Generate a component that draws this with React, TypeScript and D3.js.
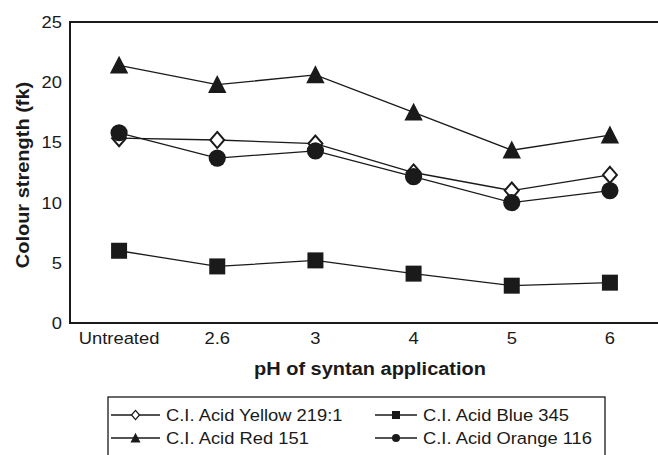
import * as d3 from "d3"

const categories = ["Untreated", "2.6", "3", "4", "5", "6"]
const yellow219 = [15.35, 15.2, 14.9, 12.5, 11.0, 12.3]
const blue345 = [6.0, 4.7, 5.2, 4.1, 3.1, 3.35]
const red151 = [21.4, 19.8, 20.6, 17.5, 14.35, 15.6]
const orange116 = [15.8, 13.7, 14.3, 12.15, 10.0, 11.0]
const yTicks = [0, 5, 10, 15, 20, 25]

const series = [
  { name: "C.I. Acid Yellow 219:1", values: yellow219, marker: "diamond" },
  { name: "C.I. Acid Blue 345", values: blue345, marker: "square" },
  { name: "C.I. Acid Red 151", values: red151, marker: "triangle" },
  { name: "C.I. Acid Orange 116", values: orange116, marker: "circle" },
]

const W = 658
const H = 455
const left = 70, right = 659, top = 22, bottom = 323
const font = "'Liberation Sans', Arial, sans-serif"
const ink = "#1a1a1a"

// the source text is a little wider than Arial, so stretch it horizontally
function T({ x, y, size, anchor = "start", bold = false, rot = 0, children }: any) {
  return (
    <text transform={`translate(${x},${y}) rotate(${rot}) scale(1.08,1)`} fontSize={size}
      textAnchor={anchor} fontWeight={bold ? "bold" : "normal"} fill={ink}>{children}</text>
  )
}

// k = half size of the marker
function Marker({ type, x, y, k, big }: { type: string; x: number; y: number; k: number; big: boolean }) {
  if (type === "diamond") {
    const h = k * 1.15
    return <path d={`M${x},${y - h}L${x + k},${y}L${x},${y + h}L${x - k},${y}Z`}
      fill="#fff" stroke={ink} strokeWidth={big ? 2 : 1.3} />
  }
  if (type === "square") {
    return <rect x={x - k} y={y - k} width={k * 2} height={k * 2} fill={ink} />
  }
  if (type === "triangle") {
    return <path d={`M${x},${y - k * 1.05}L${x + k},${y + k * 0.9}L${x - k},${y + k * 0.9}Z`} fill={ink} />
  }
  return <circle cx={x} cy={y} r={k} fill={ink} />
}

const bigSize: Record<string, number> = { diamond: 7, square: 8, triangle: 9.2, circle: 8.6 }
const smallSize: Record<string, number> = { diamond: 4, square: 4, triangle: 5, circle: 4 }

export default function App() {
  const x = d3.scaleBand().domain(categories).range([left, right])
  const y = d3.scaleLinear().domain([0, 25]).range([bottom, top])
  const cx = (c: string) => (x(c) as number) + x.bandwidth() / 2
  const line = d3.line<number>().x((_, i) => cx(categories[i])).y(d => y(d))

  const legendCols = [111, 375]
  const legendRows = [415, 438]

  return (
    <svg width={W} height={H} style={{ position: "absolute", left: 0, top: 0, background: "#fff" }}
      fontFamily={font}>
      <rect width={W} height={H} fill="#fff" />
      {/* frame */}
      <line x1={left} x2={right} y1={top} y2={top} stroke={ink} strokeWidth={2} />
      <line x1={left} x2={left} y1={top - 1} y2={bottom + 1} stroke={ink} strokeWidth={2} />
      <line x1={left} x2={right} y1={bottom} y2={bottom} stroke={ink} strokeWidth={2} />

      {yTicks.map(t => (
        <T key={t} x={62} y={y(t) + 6} size={17} anchor="end">{t}</T>
      ))}
      {categories.map(c => (
        <T key={c} x={cx(c)} y={344} size={17} anchor="middle">{c}</T>
      ))}

      <T x={370} y={375} size={18.5} anchor="middle" bold>pH of syntan application</T>
      <T x={29} y={175} size={18.5} anchor="middle" bold rot={-90}>Colour strength (fk)</T>

      {series.map(s => (
        <g key={s.name}>
          <path d={line(s.values) as string} fill="none" stroke={ink} strokeWidth={1.3} />
          {s.values.map((v, i) => (
            <Marker key={i} type={s.marker} x={cx(categories[i])} y={y(v)} k={bigSize[s.marker]} big />
          ))}
        </g>
      ))}

      {/* legend */}
      <rect x={108} y={397} width={497} height={70} fill="#fff" stroke={ink} strokeWidth={1.3} />
      {series.map((s, i) => {
        const lx = legendCols[i % 2]
        const ly = legendRows[Math.floor(i / 2)]
        const w = i % 2 === 0 ? 49 : 42
        return (
          <g key={s.name}>
            <line x1={lx} x2={lx + w} y1={ly} y2={ly} stroke={ink} strokeWidth={1.3} />
            <Marker type={s.marker} x={lx + w / 2} y={ly} k={smallSize[s.marker]} big={false} />
            <T x={lx + w + 6} y={ly + 6} size={17}>{s.name}</T>
          </g>
        )
      })}
    </svg>
  )
}
